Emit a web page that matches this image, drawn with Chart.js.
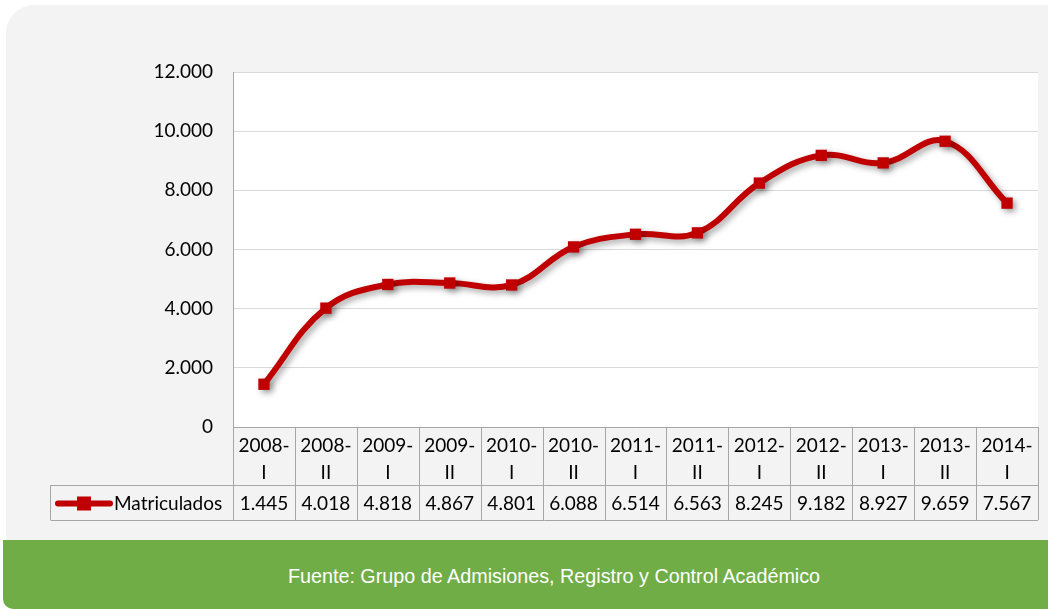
<!DOCTYPE html>
<html>
<head>
<meta charset="utf-8">
<script src="https://cdn.jsdelivr.net/npm/chart.js@4.4.1/dist/chart.umd.min.js"></script>
<style>
  html, body { margin: 0; padding: 0; background: #fff; }
  #wrap { position: relative; width: 1048px; height: 609px; overflow: hidden; }
  #panel { position: absolute; left: 6px; top: 5px; width: 1060px; height: 560px; background: #f3f3f3; border-top-left-radius: 28px; }
  #band { position: absolute; left: 3px; top: 540px; width: 1060px; height: 69px; background: #70ad47; border-bottom-left-radius: 10px; }
  #band span { position: absolute; left: 27px; width: 1048px; top: 24px; text-align: center; color: #fff; font-family: "Liberation Sans", Arial, sans-serif; font-size: 21px; transform: scaleX(0.94); transform-origin: 524px 0; white-space: nowrap; }
  #chartBox { position: absolute; left: 0; top: 0; width: 1048px; height: 609px; }
</style>
</head>
<body>
<div id="wrap">
  <div id="panel"></div>
  <div id="band"><span>Fuente: Grupo de Admisiones, Registro y Control Académico</span></div>
  <div id="chartBox"><canvas id="matChart"></canvas></div>
</div>
<script>
// data
var periodLabels = [
    ["2008-", "I"], ["2008-", "II"], ["2009-", "I"], ["2009-", "II"],
    ["2010-", "I"], ["2010-", "II"], ["2011-", "I"], ["2011-", "II"],
    ["2012-", "I"], ["2012-", "II"], ["2013-", "I"], ["2013-", "II"],
    ["2014-", "I"]
];
var matriculados = [1445, 4018, 4818, 4867, 4801, 6088, 6514, 6563, 8245, 9182, 8927, 9659, 7567];
var seriesName = "Matriculados";
var yTicks = [0, 2000, 4000, 6000, 8000, 10000, 12000];

var lineColor = "#c00000";
var tableLine = "#a6a6a6";
var fontFam = "Lato, 'Open Sans', sans-serif";

function fmt(v) {
    return v.toString().replace(/\B(?=(\d{3})+(?!\d))/g, ".");
}

// white plot area + shadow under the line
var plotBg = {
    id: "plotBg",
    beforeDraw: function(chart) {
        var a = chart.chartArea, ctx = chart.ctx;
        ctx.save();
        ctx.fillStyle = "#fff";
        ctx.fillRect(a.left, a.top, a.right - a.left, a.bottom - a.top);
        ctx.restore();
    },
    beforeDatasetDraw: function(chart) {
        var ctx = chart.ctx;
        ctx.save();
        ctx.shadowColor = "rgba(0,0,0,0.35)";
        ctx.shadowBlur = 6;
        ctx.shadowOffsetX = 3;
        ctx.shadowOffsetY = 3;
    },
    afterDatasetDraw: function(chart) {
        chart.ctx.restore();
    }
};

// data table under the x axis
var dataTable = {
    id: "dataTable",
    afterDraw: function(chart) {
        var ctx = chart.ctx, a = chart.chartArea, x = chart.scales.x;
        var headTop = a.bottom, headBot = x.bottom, rowBot = headBot + 35;
        var tableLeft = 50;
        var n = matriculados.length;
        var step = (a.right - a.left) / n;
        ctx.save();
        ctx.strokeStyle = tableLine;
        ctx.lineWidth = 1;
        ctx.beginPath();
        // header verticals
        for (var i = 0; i <= n; i++) {
            var vx = Math.round(a.left + i * step) + 0.5;
            ctx.moveTo(vx, headTop);
            ctx.lineTo(vx, rowBot);
        }
        ctx.moveTo(a.left + 0.5, headTop + 0.5);
        ctx.lineTo(a.right, headTop + 0.5);
        ctx.moveTo(tableLeft + 0.5, headBot + 0.5);
        ctx.lineTo(a.right, headBot + 0.5);
        ctx.moveTo(tableLeft + 0.5, rowBot + 0.5);
        ctx.lineTo(a.right, rowBot + 0.5);
        ctx.moveTo(tableLeft + 0.5, headBot);
        ctx.lineTo(tableLeft + 0.5, rowBot);
        ctx.stroke();

        // values row
        ctx.fillStyle = "#000";
        ctx.font = "19px " + fontFam;
        ctx.textAlign = "center";
        ctx.textBaseline = "middle";
        var midY = (headBot + rowBot) / 2 + 1;
        for (var j = 0; j < n; j++) {
            ctx.fillText(fmt(matriculados[j]), x.getPixelForValue(j), midY);
        }
        // legend key
        ctx.strokeStyle = lineColor;
        ctx.lineWidth = 6;
        ctx.lineCap = "round";
        ctx.beginPath();
        ctx.moveTo(58, midY);
        ctx.lineTo(110, midY);
        ctx.stroke();
        ctx.fillStyle = lineColor;
        ctx.fillRect(77, midY - 7, 14, 14);
        ctx.fillStyle = "#000";
        ctx.textAlign = "left";
        ctx.fillText(seriesName, 114, midY);
        ctx.restore();
    }
};

var matChart = new Chart(document.getElementById("matChart"), {
    type: "line",
    data: {
        labels: periodLabels,
        datasets: [{
            label: seriesName,
            data: matriculados,
            borderColor: lineColor,
            backgroundColor: lineColor,
            borderWidth: 6,
            tension: 0.4,
            cubicInterpolationMode: "default",
            pointStyle: "rect",
            pointRadius: 8,
            pointBorderWidth: 0,
            pointBackgroundColor: lineColor,
            fill: false
        }]
    },
    options: {
        responsive: true,
        maintainAspectRatio: false,
        animation: false,
        layout: { padding: { left: 0, top: 72, right: 10, bottom: 124 } },
        plugins: {
            legend: { display: false },
            tooltip: { enabled: false }
        },
        scales: {
            x: {
                offset: true,
                grid: { display: false },
                border: { display: false },
                afterFit: function(scale) { scale.height = 58; },
                ticks: {
                    color: "#000",
                    font: { family: fontFam, size: 19, lineHeight: 1.4 },
                    padding: -2,
                    maxRotation: 0,
                    autoSkip: false
                }
            },
            y: {
                min: 0,
                max: 12000,
                afterFit: function(scale) { scale.width = 233; },
                afterBuildTicks: function(scale) {
                    scale.ticks = yTicks.map(function(v) { return { value: v }; });
                },
                grid: { color: "#d9d9d9", drawTicks: false },
                border: { display: true, color: tableLine },
                ticks: {
                    color: "#000",
                    font: { family: fontFam, size: 19 },
                    padding: 20,
                    callback: function(v) { return fmt(v); }
                }
            }
        }
    },
    plugins: [plotBg, dataTable]
});
</script>
</body>
</html>
